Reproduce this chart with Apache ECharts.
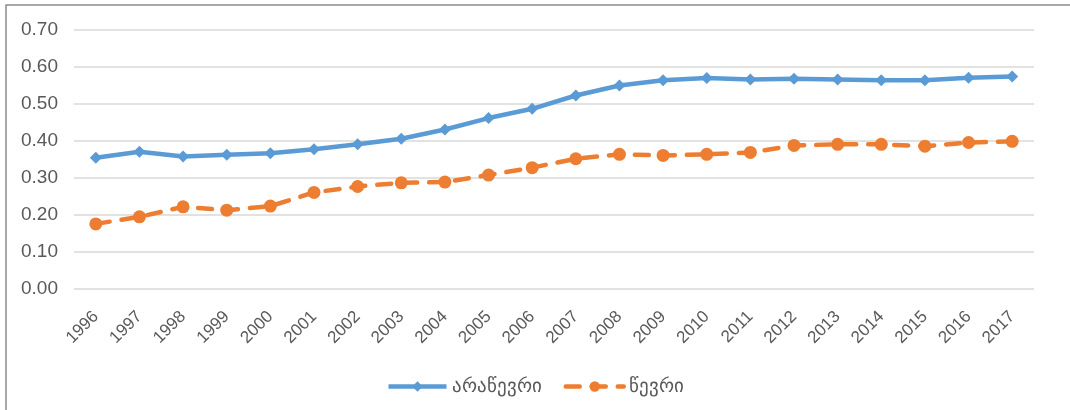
<!DOCTYPE html>
<html>
<head>
<meta charset="utf-8">
<script src="https://cdn.jsdelivr.net/npm/echarts@6/dist/echarts.min.js"></script>
<style>
html,body{margin:0;padding:0;background:#fff;}
#main{width:1070px;height:410px;}
</style>
</head>
<body>
<div id="main"></div>
<script>
var years=['1996','1997','1998','1999','2000','2001','2002','2003','2004','2005','2006','2007','2008','2009','2010','2011','2012','2013','2014','2015','2016','2017'];
var nonMembers=[0.355,0.371,0.358,0.363,0.367,0.378,0.391,0.406,0.431,0.462,0.487,0.523,0.550,0.564,0.570,0.566,0.568,0.566,0.564,0.564,0.571,0.574];
var members=[0.176,0.195,0.222,0.213,0.224,0.261,0.277,0.287,0.289,0.308,0.328,0.352,0.364,0.361,0.364,0.369,0.388,0.391,0.391,0.386,0.396,0.399];
var yTicks=[0,0.1,0.2,0.3,0.4,0.5,0.6,0.7];

var mychart=echarts.init(document.getElementById('main'));
mychart.setOption({
    animation:false,
    textStyle:{fontFamily:'Liberation Sans'},
    graphic:[{
        type:'rect',
        shape:{x:6,y:5,width:1100,height:440},
        style:{fill:'none',stroke:'#8c8c8c',lineWidth:1.5},
        silent:true
    }],
    grid:{left:74,right:36,top:30,bottom:121},
    legend:{
        top:372,
        left:'center',
        itemWidth:58,
        itemHeight:13,
        itemGap:22,
        lineStyle:{width:4.5},
        textStyle:{color:'#595959',fontSize:19},
        data:['არაწევრი','წევრი']
    },
    xAxis:{
        type:'category',
        data:years,
        axisLine:{show:false},
        axisTick:{show:false},
        axisLabel:{color:'#595959',fontSize:17,rotate:45,margin:25}
    },
    yAxis:{
        type:'value',
        min:yTicks[0],
        max:yTicks[yTicks.length-1],
        interval:0.1,
        axisLine:{show:false},
        axisTick:{show:false},
        splitLine:{lineStyle:{color:'#d9d9d9',width:1.5}},
        axisLabel:{color:'#595959',fontSize:19,margin:16,formatter:function(v){return v.toFixed(2);}}
    },
    series:[
        {
            name:'არაწევრი',
            type:'line',
            data:nonMembers,
            symbol:'diamond',
            symbolSize:12,
            lineStyle:{color:'#5b9bd5',width:4.5},
            itemStyle:{color:'#5b9bd5'}
        },
        {
            name:'წევრი',
            type:'line',
            data:members,
            symbol:'circle',
            symbolSize:13,
            lineStyle:{color:'#ed7d31',width:4.5,type:[14,12],cap:'round'},
            itemStyle:{color:'#ed7d31'}
        }
    ]
});
</script>
</body>
</html>
